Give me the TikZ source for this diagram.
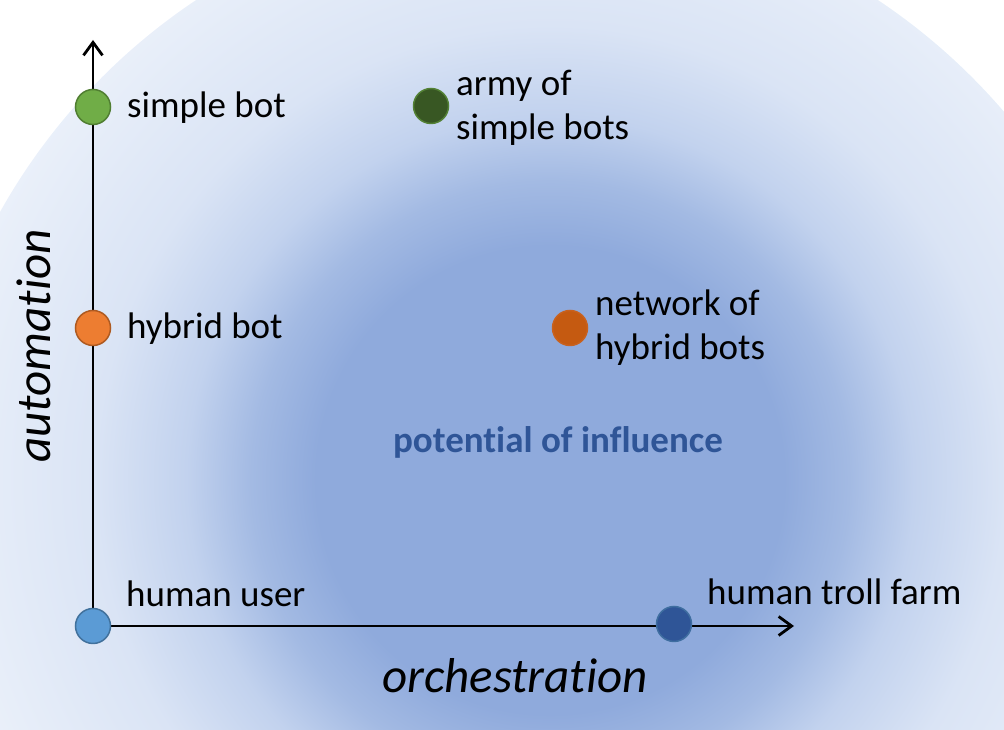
\documentclass[tikz,border=0pt]{standalone}
\usepackage{fontspec}
\setmainfont{Carlito}[Ligatures=NoCommon]
\usetikzlibrary{arrows.meta}

\definecolor{infA}{HTML}{8FAADC}
\definecolor{infB}{HTML}{A3BAE3}
\definecolor{infC}{HTML}{C2D2EE}
\definecolor{infD}{HTML}{DAE4F5}
\definecolor{infE}{HTML}{EEF3FB}
\definecolor{infText}{HTML}{2F5597}
\pgfdeclareradialshading{influence}{\pgfpoint{0bp}{0bp}}{%
  color(0bp)=(infA); color(9bp)=(infA); color(11.5bp)=(infB);
  color(14bp)=(infC); color(17.5bp)=(infD); color(25bp)=(infE); color(50bp)=(infE)}

\begin{document}
\begin{tikzpicture}[x=1pt,y=1pt,
    dot/.style={circle,minimum size=35pt,inner sep=0pt,line width=1.5pt},
    lbl/.style={font=\fontsize{37}{44}\selectfont,inner sep=0pt,align=left,anchor=base west},
    axislbl/.style={font=\fontsize{49}{58}\selectfont\itshape,inner sep=0pt,anchor=base}]
        \useasboundingbox (0,0) rectangle (1004,730);
        \clip (0,0) rectangle (1004,730);
        % background
        \begin{scope}
            \clip (537,218) circle (615pt);
            \shade[shading=influence] (550,250) circle (650pt);
        \end{scope}
        % axes
        \coordinate (origin) at (93,104);
        \coordinate (ytip) at (93,690);
        \coordinate (xtip) at (794,104);
        \draw[line width=2.8pt,-{Straight Barb[length=13pt,width=19pt]}] (origin) -- (ytip);
        \draw[line width=2.8pt,-{Straight Barb[length=13pt,width=19pt]}] (origin) -- (xtip);
        % dots
        \node[dot,fill={rgb,255:red,91;green,155;blue,213},draw={rgb,255:red,65;green,113;blue,156}] (human) at (origin) {};
        \node[dot,fill={rgb,255:red,237;green,125;blue,49},draw={rgb,255:red,174;green,90;blue,33}] (hybrid) at (93,402) {};
        \node[dot,fill={rgb,255:red,112;green,173;blue,71},draw={rgb,255:red,80;green,126;blue,50}] (simple) at (93,623) {};
        \node[dot,fill={rgb,255:red,56;green,87;blue,35},draw={rgb,255:red,83;green,129;blue,53}] (army) at (431,624) {};
        \node[dot,fill={rgb,255:red,197;green,90;blue,17},draw={rgb,255:red,200;green,97;blue,30}] (network) at (570,402) {};
        \node[dot,fill={rgb,255:red,47;green,85;blue,151},draw={rgb,255:red,63;green,110;blue,160}] (troll) at (674,106) {};
        % labels
        \node[lbl] (simplelbl) at (127,612) {simple bot};
        \node[lbl] (hybridlbl) at (127,391) {hybrid bot};
        \node[lbl] (humanlbl) at (126,123) {human user};
        \node[lbl] (trolllbl) at (707,125) {human troll farm};
        \node[lbl] (armylbl) at (456,590) {army of\\simple bots};
        \node[lbl] (networklbl) at (595,370) {network of\\hybrid bots};
        \node[font=\fontsize{37}{44}\selectfont\bfseries,text=infText,inner sep=0pt,anchor=base] (influence) at (558,277) {potential of influence};
        \node[axislbl] (orchlbl) at (515,37) {orchestration};
        \node[axislbl,rotate=90] (autolbl) at (50,384) {automation};
    \end{tikzpicture}
\end{document}
